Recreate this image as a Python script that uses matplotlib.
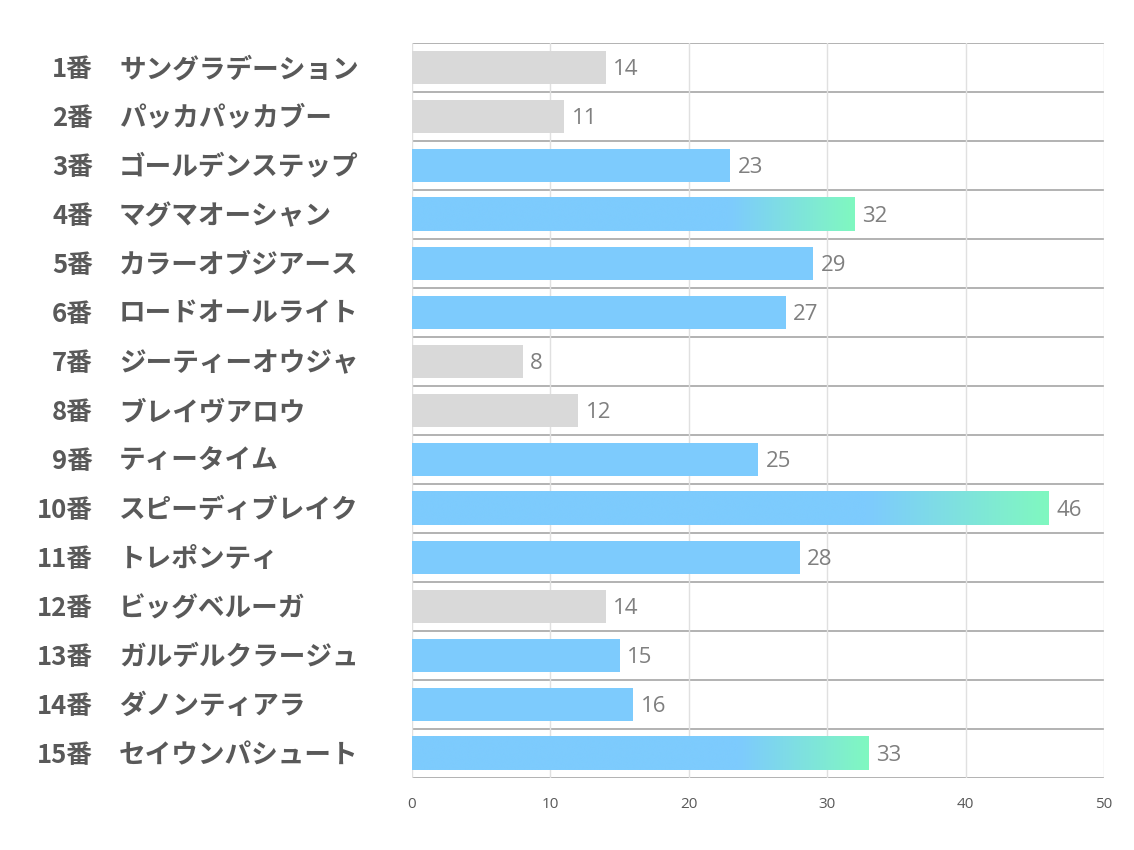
import matplotlib
matplotlib.use("Agg")
import matplotlib.pyplot as plt
import numpy as np
from matplotlib.colors import LinearSegmentedColormap

numbers = ["1番", "2番", "3番", "4番", "5番", "6番", "7番", "8番", "9番", "10番",
           "11番", "12番", "13番", "14番", "15番"]
names = ["サングラデーション", "パッカパッカブー", "ゴールデンステップ", "マグマオーシャン",
         "カラーオブジアース", "ロードオールライト", "ジーティーオウジャ", "ブレイヴアロウ",
         "ティータイム", "スピーディブレイク", "トレポンティ", "ビッグベルーガ",
         "ガルデルクラージュ", "ダノンティアラ", "セイウンパシュート"]
values = [14, 11, 23, 32, 29, 27, 8, 12, 25, 46, 28, 14, 15, 16, 33]
xticks = [0, 10, 20, 30, 40, 50]

GRAY = "#d9d9d9"
BLUE = "#7dcbfd"
GREEN = "#80f8c0"
TEXT = "#595959"

fig = plt.figure(figsize=(11.34, 8.5), dpi=100)
ax = fig.add_axes([412/1134, 1-778/850, (1104-412)/1134, (778-43)/850])

top3 = sorted(values, reverse=True)[:3]
cmap = LinearSegmentedColormap.from_list("g", [(0, BLUE), (0.72, BLUE), (1.0, GREEN)])
grad = np.linspace(0, 1, 256).reshape(1, -1)
h = 0.68
for i, v in enumerate(values):
    if v < 15:
        ax.barh(i, v, height=h, color=GRAY, zorder=2)
    elif v in top3:
        ax.imshow(grad, cmap=cmap, extent=[0, v, i + h/2, i - h/2], aspect="auto",
                  interpolation="bicubic", zorder=2)
    else:
        ax.barh(i, v, height=h, color=BLUE, zorder=2)
    ax.text(v + 0.55, i + 0.04, str(v), va="center", ha="left", fontsize=16,
            color="#7f7f7f", family=["Open Sans", "DejaVu Sans"], zorder=3)

ax.set_xlim(0, 50)
ax.set_ylim(len(values) - 0.5, -0.5)
for b in np.arange(-0.5, len(values) + 0.5, 1):
    ax.axhline(b, color="#a6a6a6", lw=1.2, zorder=1)
for x in xticks:
    ax.axvline(x, color="#e0e0e0", lw=1, zorder=1)
for s in ax.spines.values():
    s.set_visible(False)
ax.set_xticks(xticks)
ax.set_xticklabels([str(t) for t in xticks], fontsize=11, color=TEXT,
                   family=["Open Sans", "DejaVu Sans"])
ax.tick_params(axis="x", length=0, pad=14)
ax.set_yticks([])

for i, (n, nm) in enumerate(zip(numbers, names)):
    yf = ax.transData.transform((0, i))[1] - 2
    yfig = fig.transFigure.inverted().transform((0, yf))[1]
    fig.text(93/1134, yfig, n, ha="right", va="center", fontsize=18.5, fontweight="bold",
             color=TEXT, family=["Noto Sans CJK JP", "DejaVu Sans"])
    fig.text(119/1134, yfig, nm, ha="left", va="center", fontsize=19.2, fontweight="bold",
             color=TEXT, family=["Noto Sans CJK JP", "DejaVu Sans"])

fig.savefig("out.png", dpi=100)
